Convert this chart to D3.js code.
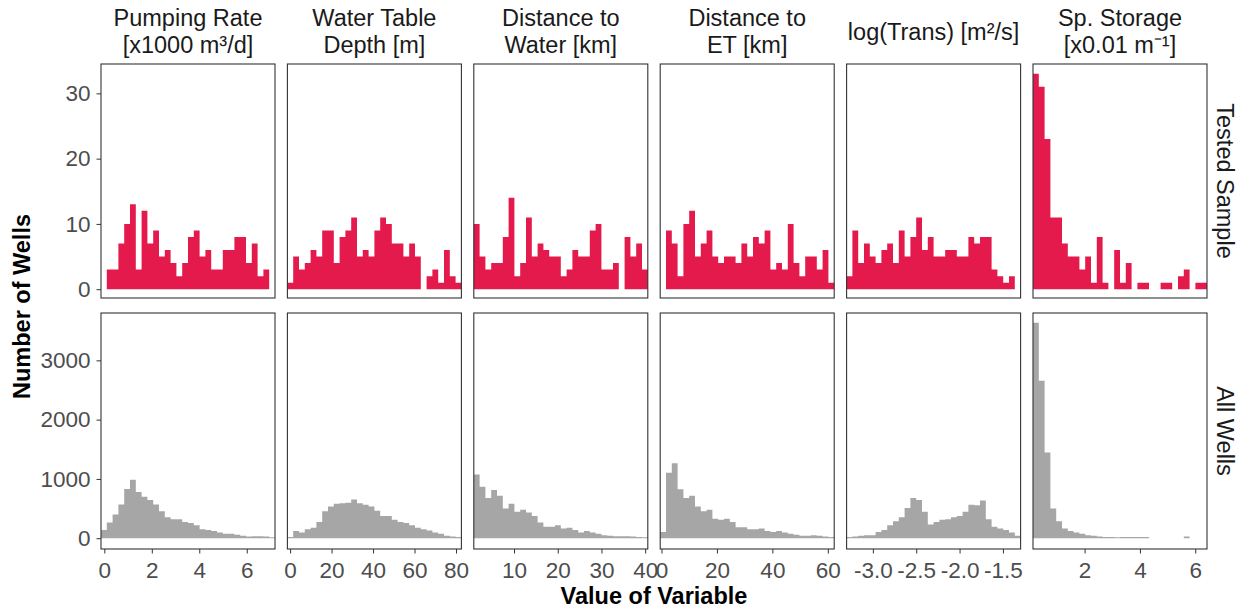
<!DOCTYPE html>
<meta charset="UTF-8">
<html>
<head>
<style>

body {
  margin:0;
  background:#fff;
  font-family: "Liberation Sans", Arial, sans-serif;
}

.strip {
  font-size:23.5px;
  fill:#1a1a1a;
}

.axis .tick text {
  font-size:22.5px;
  fill:#4d4d4d;
}

.axis .tick line {
  stroke:#333;
}

.axis-title {
  font-size:23.5px;
  font-weight:bold;
  fill:#000;
}

.frame {
  fill:none;
  stroke:#333;
  stroke-width:1.1;
}

</style>
</head>
<body>

<svg width="1245" height="613"></svg>
<script src="https://d3js.org/d3.v7.min.js"></script>

<script type="text/javascript">

// facet columns (two-line strip titles)
var variables = [
  ["Pumping Rate", "[x1000 m³/d]"],
  ["Water Table", "Depth [m]"],
  ["Distance to", "Water [km]"],
  ["Distance to", "ET [km]"],
  ["log(Trans) [m²/s]"],
  ["Sp. Storage", "[x0.01 m⁻¹]"]
];

// facet rows
var groups = ["Tested Sample", "All Wells"];

// range covered by the 30 bins of each variable
var binRange = [
  [-0.14, 7.19],
  [-1.3, 82.6],
  [0.8, 40.6],
  [-0.47, 62.3],
  [-3.303, -1.296],
  [0.135, 6.425]
];

// counts per bin, tested sample (166 wells)
var tested = [
  [0,3,3,7,10,13,3,12,7,9,5,6,4,2,4,8,9,5,6,3,3,6,6,8,8,4,7,2,3,0],
  [1,5,3,4,6,5,9,9,4,8,9,11,5,6,5,9,11,10,7,7,5,7,5,0,2,3,1,6,2,1],
  [10,5,3,4,4,8,14,2,4,11,5,7,6,5,5,2,3,6,5,5,9,10,3,3,4,0,8,5,7,3],
  [0,9,7,2,10,12,5,7,9,5,4,5,5,4,7,5,8,7,9,3,4,3,10,4,2,5,5,3,6,1],
  [2,9,4,7,5,4,6,7,4,9,5,8,11,6,8,5,5,6,6,5,5,8,7,8,8,3,2,1,2,0],
  [33,31,23,11,11,7,5,5,3,5,1,8,1,0,6,1,4,0,1,1,0,0,1,1,0,2,3,0,1,1]
];

// counts per bin, all wells
var allWells = [
  [140,265,400,570,830,985,780,700,645,570,455,355,320,320,275,255,220,150,140,120,95,75,75,60,40,30,35,35,30,15],
  [20,120,95,150,175,275,455,535,580,590,600,655,590,565,535,465,375,375,310,275,255,220,175,150,130,95,75,40,28,20],
  [1075,870,680,815,715,500,580,445,480,435,375,265,195,195,220,165,175,140,95,120,95,75,50,40,35,35,35,28,20,15],
  [105,1105,1265,825,680,715,535,455,480,330,310,330,275,185,185,150,150,165,120,105,120,95,75,60,40,40,50,40,28,20],
  [20,28,40,50,50,105,140,220,285,355,510,680,645,445,230,275,310,320,355,375,445,565,555,635,320,195,165,140,95,40],
  [3635,2655,1445,500,285,165,120,95,75,50,40,28,20,20,15,20,20,20,20,20,0,0,0,0,0,0,30,0,0,0]
];

var xTicks = [
  [0, 2, 4, 6],
  [0, 20, 40, 60, 80],
  [10, 20, 30, 40],
  [0, 20, 40, 60],
  [-3.0, -2.5, -2.0, -1.5],
  [2, 4, 6]
];
var xFormat = ["d", "d", "d", "d", ".1f", "d"];

var yTicksTested = [0, 10, 20, 30];
var yTicksAll = [0, 1000, 2000, 3000];

var svg = d3.select("svg");

var panelLeft = 101, panelW = 174, panelStep = 186.4;
var rowTop = [64, 313], panelH = [234, 236];
var colors = ["#e31a4b", "#a6a6a6"];

// plain hyphen for negatives, like the original
function fmt(spec) {
  var f = d3.format(spec);
  return function(v) { return f(v).replace("\u2212", "-"); };
}

// y scales (ggplot style 5% padding)
var yTop = d3.scaleLinear()
    .domain([-1.35, 34.5])
    .range([rowTop[0] + panelH[0], rowTop[0]]);
var maxAll = d3.max(allWells, function(c) { return d3.max(c); });
var yBottom = d3.scaleLinear()
    .domain([-0.05 * maxAll, maxAll * 1.045])
    .range([rowTop[1] + panelH[1], rowTop[1]]);
var yScales = [yTop, yBottom];
var rowData = [tested, allWells];

variables.forEach(function(title, i) {
  var x0 = panelLeft + i * panelStep;
  var x = d3.scaleLinear().domain(binRange[i]).range([x0, x0 + panelW]);
  var bw = (binRange[i][1] - binRange[i][0]) / 30;

  rowData.forEach(function(data, r) {
    var y = yScales[r];
    var g = svg.append("g");

    // one step path per panel, so neighbouring bins have no seams
    var pts = data[i].map(function(d, k) { return [binRange[i][0] + k * bw, d]; });
    pts.push([binRange[i][1], data[i][29]]);

    var area = d3.area()
        .curve(d3.curveStepAfter)
        .x(function(p) { return x(p[0]); })
        .y0(y(0))
        .y1(function(p) { return y(p[1]); });

    g.append("path")
      .datum(pts)
      .attr("d", area)
      .attr("fill", colors[r]);

    g.append("rect")
      .attr("class", "frame")
      .attr("x", x0)
      .attr("y", rowTop[r])
      .attr("width", panelW)
      .attr("height", panelH[r]);
  });

  // x axis under the bottom row
  var ax = svg.append("g")
      .attr("class", "axis")
      .attr("transform", "translate(0," + (rowTop[1] + panelH[1]) + ")")
      .call(d3.axisBottom(x).tickValues(xTicks[i]).tickFormat(fmt(xFormat[i]))
        .tickSize(4.5).tickPadding(9));
  ax.select(".domain").remove();
  ax.selectAll("text").attr("font-family", null).attr("font-size", null);

  // strip title
  var st = svg.append("text")
      .attr("class", "strip")
      .attr("text-anchor", "middle")
      .attr("x", x0 + panelW / 2)
      .attr("y", title.length == 1 ? 39.5 : 26);
  title.forEach(function(line, j) {
    st.append("tspan")
      .attr("x", x0 + panelW / 2)
      .attr("dy", j == 0 ? 0 : 27)
      .text(line);
  });
});

// y axes on the first column
[yTicksTested, yTicksAll].forEach(function(ticks, r) {
  var ay = svg.append("g")
      .attr("class", "axis")
      .attr("transform", "translate(" + panelLeft + ",0)")
      .call(d3.axisLeft(yScales[r]).tickValues(ticks).tickFormat(fmt("d"))
        .tickSize(4.5).tickPadding(6));
  ay.select(".domain").remove();
  ay.selectAll("text").attr("font-family", null).attr("font-size", null);
});

// row strips on the right
groups.forEach(function(name, r) {
  svg.append("text")
    .attr("class", "strip")
    .attr("text-anchor", "middle")
    .attr("transform", "translate(1216.5," + (rowTop[r] + panelH[r] / 2) + ") rotate(90)")
    .text(name);
});

svg.append("text")
  .attr("class", "axis-title")
  .attr("text-anchor", "middle")
  .attr("transform", "translate(30," + ((rowTop[0] + rowTop[1] + panelH[1]) / 2) + ") rotate(-90)")
  .text("Number of Wells");

svg.append("text")
  .attr("class", "axis-title")
  .attr("text-anchor", "middle")
  .attr("x", panelLeft + (5 * panelStep + panelW) / 2)
  .attr("y", 604)
  .text("Value of Variable");

</script>
</body>
</html>
